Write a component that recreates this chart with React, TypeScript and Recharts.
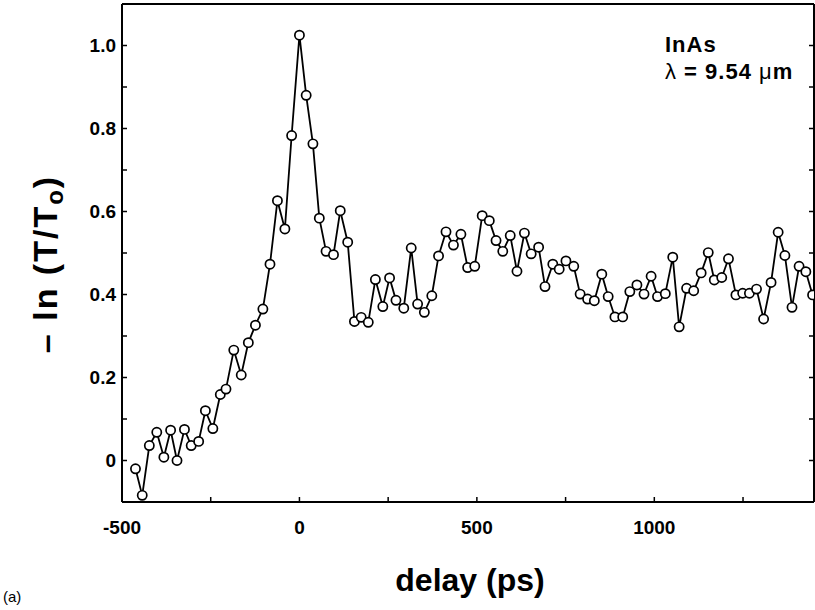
import { LineChart, Line, XAxis, YAxis, Label } from "recharts";

// delay in ps
const delays = [
  -462, -443, -423, -402, -382, -363, -345, -324, -305, -284, -265, -244, -223, -207,
  -185, -164, -144, -124, -103, -83, -62, -41, -22, 0, 19, 38, 56, 75, 96, 115, 136,
  155, 174, 194, 214, 235, 254, 272, 294, 315, 333, 352, 373, 392, 413, 434, 455, 474,
  494, 515, 535, 554, 573, 594, 613, 634, 653, 674, 692, 714, 732, 751, 773, 791, 812,
  831, 852, 870, 889, 911, 931, 951, 971, 991, 1009, 1031, 1052, 1070, 1091, 1111, 1132,
  1152, 1169, 1190, 1209, 1230, 1249, 1268, 1288, 1308, 1329, 1349, 1368, 1388, 1408,
  1427, 1446,
];

// -ln(T/To)
const absorbance = [
  -0.02, -0.084, 0.036, 0.068, 0.008, 0.073, 0.0, 0.075, 0.036, 0.046, 0.12, 0.077, 0.159,
  0.172, 0.266, 0.206, 0.284, 0.326, 0.365, 0.473, 0.626, 0.558, 0.783, 1.025, 0.88, 0.763,
  0.584, 0.504, 0.496, 0.602, 0.526, 0.335, 0.345, 0.333, 0.436, 0.371, 0.44, 0.386, 0.367,
  0.512, 0.377, 0.357, 0.397, 0.493, 0.551, 0.519, 0.545, 0.465, 0.468, 0.59, 0.578, 0.53,
  0.504, 0.542, 0.456, 0.548, 0.498, 0.514, 0.419, 0.473, 0.461, 0.481, 0.468, 0.401, 0.389,
  0.385, 0.449, 0.395, 0.346, 0.346, 0.407, 0.423, 0.401, 0.444, 0.395, 0.402, 0.49, 0.322,
  0.415, 0.409, 0.452, 0.501, 0.435, 0.441, 0.486, 0.399, 0.403, 0.403, 0.413, 0.341, 0.429,
  0.55, 0.494, 0.369, 0.468, 0.455, 0.399,
];

const xTicks = [-500, -250, 0, 250, 500, 750, 1000, 1250];
const xLabels = [-500, 0, 500, 1000];
const yTicks = [-0.1, 0, 0.1, 0.2, 0.3, 0.4, 0.5, 0.6, 0.7, 0.8, 0.9, 1.0, 1.1];
const yLabels = [0, 0.2, 0.4, 0.6, 0.8, 1.0];

const data = delays.map((t, i) => ({ t, v: absorbance[i] }));

const font = "'Liberation Sans', Arial, Helvetica, sans-serif";
const tickStyle = { fill: "#000", fontSize: 19, fontWeight: 700, fontFamily: font };
const axisLine = { stroke: "#000", strokeWidth: 2 };
const tickLine = { stroke: "#000", strokeWidth: 1.5 };

const fmtX = (v: number) => (xLabels.includes(v) ? String(v) : "");
const fmtY = (v: number) =>
  yLabels.some((l) => Math.abs(l - v) < 1e-6) ? (v === 0 ? "0" : v.toFixed(1)) : "";
const blank = () => "";

const YTitle = () => (
  <text
    x={-264}
    y={57}
    transform="rotate(-90)"
    textAnchor="middle"
    fontFamily={font}
    fontWeight={700}
    fontSize={34}
    letterSpacing={2}
    fill="#000"
  >
    – ln (T/T
    <tspan dy={6} fontSize={24}>o</tspan>
    <tspan dy={-6}>)</tspan>
  </text>
);

const XTitle = () => (
  <text
    x={470}
    y={591}
    textAnchor="middle"
    fontFamily={font}
    fontWeight={700}
    fontSize={32}
    fill="#000"
  >
    delay (ps)
  </text>
);

export default function App() {
  return (
    <div style={{ position: "absolute", left: 0, top: 0, width: 815, height: 610, background: "#fff" }}>
      <LineChart
        width={815}
        height={610}
        data={data}
        margin={{ top: 3, right: 0, bottom: 107, left: 121 }}
      >
        <XAxis
          dataKey="t"
          type="number"
          domain={[-500, 1450]}
          allowDataOverflow
          ticks={xTicks}
          tickFormatter={fmtX}
          height={1}
          tickSize={-5}
          tickMargin={24}
          tick={tickStyle}
          axisLine={axisLine}
          tickLine={tickLine}
        >
          <Label content={XTitle} />
        </XAxis>
        <XAxis
          xAxisId="top"
          orientation="top"
          type="number"
          domain={[-500, 1450]}
          allowDataOverflow
          ticks={xTicks}
          tickFormatter={blank}
          height={1}
          tickSize={-5}
          axisLine={axisLine}
          tickLine={tickLine}
        />
        <YAxis
          type="number"
          domain={[-0.1, 1.1]}
          allowDataOverflow
          ticks={yTicks}
          tickFormatter={fmtY}
          width={1}
          tickSize={-5}
          tickMargin={11}
          tick={tickStyle}
          axisLine={axisLine}
          tickLine={tickLine}
        >
          <Label content={YTitle} />
        </YAxis>
        <YAxis
          yAxisId="right"
          orientation="right"
          type="number"
          domain={[-0.1, 1.1]}
          allowDataOverflow
          ticks={yTicks}
          tickFormatter={blank}
          width={1}
          tickSize={-5}
          axisLine={axisLine}
          tickLine={tickLine}
        />
        <Line
          dataKey="v"
          type="linear"
          stroke="#000"
          strokeWidth={1.8}
          dot={{ r: 4.6, fill: "#fff", stroke: "#000", strokeWidth: 1.7 }}
          isAnimationActive={false}
        />
      </LineChart>
      <div
        style={{
          position: "absolute",
          left: 665,
          top: 31,
          fontFamily: font,
          fontWeight: 700,
          fontSize: 22,
          letterSpacing: 1,
          lineHeight: "27px",
          color: "#000",
        }}
      >
        <div>InAs</div>
        <div>
          <span style={{ fontWeight: 400 }}>λ</span> = 9.54 <span style={{ fontWeight: 400 }}>μ</span>m
        </div>
      </div>
      <div
        style={{
          position: "absolute",
          left: 3,
          top: 588,
          fontFamily: font,
          fontSize: 15,
          color: "#000",
        }}
      >
        (a)
      </div>
    </div>
  );
}
